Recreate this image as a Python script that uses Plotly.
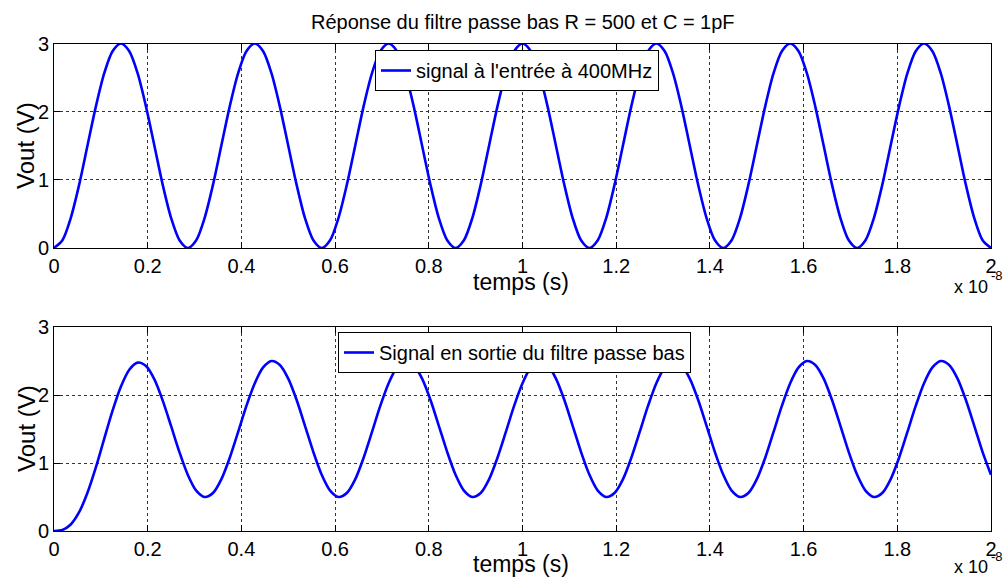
import plotly.graph_objects as go

# time in units of 1e-8 s
temps = [0, 0.0179, 0.0357, 0.0536, 0.0714, 0.0893, 0.1071, 0.125, 0.1429, 0.1607,
         0.1786, 0.1964, 0.2143, 0.2321, 0.25, 0.2679, 0.2857, 0.3036, 0.3214, 0.3393,
         0.3571, 0.375, 0.3929, 0.4107, 0.4286, 0.4464, 0.4643, 0.4821, 0.5, 0.5179,
         0.5357, 0.5536, 0.5714, 0.5893, 0.6071, 0.625, 0.6429, 0.6607, 0.6786, 0.6964,
         0.7143, 0.7321, 0.75, 0.7679, 0.7857, 0.8036, 0.8214, 0.8393, 0.8571, 0.875,
         0.8929, 0.9107, 0.9286, 0.9464, 0.9643, 0.9821, 1.0, 1.0179, 1.0357, 1.0536,
         1.0714, 1.0893, 1.1071, 1.125, 1.1429, 1.1607, 1.1786, 1.1964, 1.2143, 1.2321,
         1.25, 1.2679, 1.2857, 1.3036, 1.3214, 1.3393, 1.3571, 1.375, 1.3929, 1.4107,
         1.4286, 1.4464, 1.4643, 1.4821, 1.5, 1.5179, 1.5357, 1.5536, 1.5714, 1.5893,
         1.6071, 1.625, 1.6429, 1.6607, 1.6786, 1.6964, 1.7143, 1.7321, 1.75, 1.7679,
         1.7857, 1.8036, 1.8214, 1.8393, 1.8571, 1.875, 1.8929, 1.9107, 1.9286, 1.9464,
         1.9643, 1.9821, 2.0]

signal_entree = [0.0, 0.114, 0.439, 0.926, 1.5, 2.074, 2.561, 2.886, 3.0, 2.886, 2.561, 2.074, 1.5, 0.926, 0.439, 0.114,
                 0.0, 0.114, 0.439, 0.926, 1.5, 2.074, 2.561, 2.886, 3.0, 2.886, 2.561, 2.074, 1.5, 0.926, 0.439, 0.114,
                 0.0, 0.114, 0.439, 0.926, 1.5, 2.074, 2.561, 2.886, 3.0, 2.886, 2.561, 2.074, 1.5, 0.926, 0.439, 0.114,
                 0.0, 0.114, 0.439, 0.926, 1.5, 2.074, 2.561, 2.886, 3.0, 2.886, 2.561, 2.074, 1.5, 0.926, 0.439, 0.114,
                 0.0, 0.114, 0.439, 0.926, 1.5, 2.074, 2.561, 2.886, 3.0, 2.886, 2.561, 2.074, 1.5, 0.926, 0.439, 0.114,
                 0.0, 0.114, 0.439, 0.926, 1.5, 2.074, 2.561, 2.886, 3.0, 2.886, 2.561, 2.074, 1.5, 0.926, 0.439, 0.114,
                 0.0, 0.114, 0.439, 0.926, 1.5, 2.074, 2.561, 2.886, 3.0, 2.886, 2.561, 2.074, 1.5, 0.926, 0.439, 0.114,
                 0.0]

signal_sortie = [0.0, 0.016, 0.096, 0.276, 0.562, 0.935, 1.356, 1.771, 2.126, 2.372, 2.476, 2.425, 2.229, 1.918, 1.541, 1.157,
                 0.824, 0.593, 0.500, 0.559, 0.760, 1.074, 1.453, 1.839, 2.173, 2.405, 2.499, 2.441, 2.240, 1.926, 1.547, 1.161,
                 0.827, 0.595, 0.501, 0.559, 0.760, 1.074, 1.453, 1.839, 2.173, 2.405, 2.499, 2.441, 2.240, 1.926, 1.547, 1.161,
                 0.827, 0.595, 0.501, 0.559, 0.760, 1.074, 1.453, 1.839, 2.173, 2.405, 2.499, 2.441, 2.240, 1.926, 1.547, 1.161,
                 0.827, 0.595, 0.501, 0.559, 0.760, 1.074, 1.453, 1.839, 2.173, 2.405, 2.499, 2.441, 2.240, 1.926, 1.547, 1.161,
                 0.827, 0.595, 0.501, 0.559, 0.760, 1.074, 1.453, 1.839, 2.173, 2.405, 2.499, 2.441, 2.240, 1.926, 1.547, 1.161,
                 0.827, 0.595, 0.501, 0.559, 0.760, 1.074, 1.453, 1.839, 2.173, 2.405, 2.499, 2.441, 2.240, 1.926, 1.547, 1.161,
                 0.827]

x_ticks = [0, 0.2, 0.4, 0.6, 0.8, 1, 1.2, 1.4, 1.6, 1.8, 2]
x_ticklabels = ["0", "0.2", "0.4", "0.6", "0.8", "1", "1.2", "1.4", "1.6", "1.8", "2"]
y_ticks = [0, 1, 2, 3]

title_text = "Réponse du filtre passe bas R = 500 et C = 1pF"
legend_in = "signal à l'entrée à 400MHz"
legend_out = "Signal en sortie du filtre passe bas"

W, H = 1003, 579
FONT = "Liberation Sans, Arial, Helvetica, sans-serif"

def px(x):
    return x / W

def py(y):
    return 1 - y / H

fig = go.Figure()
fig.add_trace(go.Scatter(x=temps, y=signal_entree, mode="lines", name=legend_in,
                         line=dict(color="#0000FF", width=2.6, shape="spline", smoothing=0.8),
                         xaxis="x", yaxis="y", legend="legend"))
fig.add_trace(go.Scatter(x=temps, y=signal_sortie, mode="lines", name=legend_out,
                         line=dict(color="#0000FF", width=2.6, shape="spline", smoothing=0.8),
                         xaxis="x2", yaxis="y2", legend="legend2"))

axis_common = dict(showline=True, linecolor="black", linewidth=1, mirror="ticks",
                   ticks="inside", ticklen=6, tickcolor="black", tickwidth=1,
                   showgrid=True, gridcolor="#333333", gridwidth=1, griddash="dot",
                   zeroline=False, automargin=False,
                   tickfont=dict(family=FONT, size=20, color="black"))

x_dom = [px(54), px(991)]
fig.update_layout(
    template="none",
    width=W, height=H,
    margin=dict(l=0, r=0, t=0, b=0, pad=0),
    paper_bgcolor="white", plot_bgcolor="white",
    font=dict(family=FONT, color="black"),
    xaxis=dict(domain=x_dom, range=[0, 2], tickvals=x_ticks, ticktext=x_ticklabels,
               anchor="y", **axis_common),
    yaxis=dict(domain=[py(248), py(43.5)], range=[0, 3], tickvals=y_ticks,
               anchor="x", **axis_common),
    xaxis2=dict(domain=x_dom, range=[0, 2], tickvals=x_ticks, ticktext=x_ticklabels,
                anchor="y2", **axis_common),
    yaxis2=dict(domain=[py(531), py(327)], range=[0, 3], tickvals=y_ticks,
                anchor="x2", **axis_common),
    showlegend=True,
    legend=dict(x=px(375), y=py(50), xanchor="left", yanchor="top",
                bgcolor="white", bordercolor="black", borderwidth=1,
                font=dict(family=FONT, size=20, color="black")),
    legend2=dict(x=px(338), y=py(332), xanchor="left", yanchor="top",
                 bgcolor="white", bordercolor="black", borderwidth=1,
                 font=dict(family=FONT, size=20, color="black")),
)

annotations = [
    dict(text=title_text, x=px(523), y=py(22), font=dict(size=20)),
    dict(text="temps (s)", x=px(521), y=py(282), font=dict(size=23)),
    dict(text="temps (s)", x=px(521), y=py(564), font=dict(size=23)),
    dict(text="Vout (V)", x=px(26), y=py(146), textangle=-90, font=dict(size=24)),
    dict(text="Vout (V)", x=px(26), y=py(429), textangle=-90, font=dict(size=24)),
    dict(text="x 10", x=px(990), y=py(287), xanchor="right", font=dict(size=18)),
    dict(text="-8", x=px(989), y=py(276), xanchor="left", font=dict(size=13)),
    dict(text="x 10", x=px(990), y=py(567), xanchor="right", font=dict(size=18)),
    dict(text="-8", x=px(989), y=py(556), xanchor="left", font=dict(size=13)),
]
for a in annotations:
    a.setdefault("xanchor", "center")
    a.update(xref="paper", yref="paper", showarrow=False, yanchor="middle")
    a["font"].update(family=FONT, color="black")
    fig.add_annotation(**a)

fig.write_html(
    "out.html",
    config={"displayModeBar": False},
    post_script="document.body.style.margin='0px';document.documentElement.style.overflow='hidden';",
)
